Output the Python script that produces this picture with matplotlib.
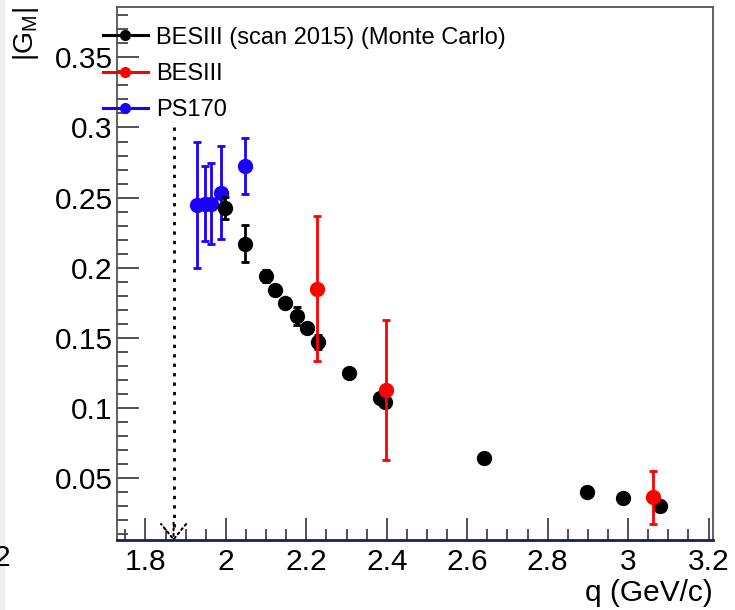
import matplotlib.pyplot as plt
from matplotlib.lines import Line2D
from matplotlib.patches import Rectangle
from matplotlib.ticker import MultipleLocator

# BESIII scan 2015 (Monte Carlo)
mc_q = [1.999, 2.047, 2.099, 2.122, 2.148, 2.176, 2.202, 2.230, 2.306, 2.383, 2.396, 2.643, 2.897, 2.987, 3.080]
mc_g = [0.2426, 0.2172, 0.1941, 0.1840, 0.1750, 0.1654, 0.1566, 0.1470, 0.1248, 0.1067, 0.1043, 0.0640, 0.0402, 0.0355, 0.0300]
mc_err = [0.008, 0.013, 0.004, 0.0, 0.0, 0.0065, 0.0, 0.005, 0.0, 0.0, 0.0, 0.0, 0.0, 0.0, 0.0]

# BESIII
bes_q = [2.227, 2.398, 3.063]
bes_g = [0.1851, 0.1126, 0.0362]
bes_err = [0.052, 0.050, 0.019]

# PS170
ps_q = [1.927, 1.948, 1.963, 1.988, 2.047]
ps_g = [0.2445, 0.2457, 0.2457, 0.2536, 0.2725]
ps_err = [0.045, 0.027, 0.029, 0.033, 0.020]

threshold_q = 1.87
threshold_top = 0.30

labels = ["BESIII (scan 2015) (Monte Carlo)", "BESIII", "PS170"]
colors = ["black", "#ff0000", "#1a00ff"]

plt.rcParams["font.family"] = ["Liberation Sans", "DejaVu Sans"]
plt.rcParams["mathtext.fontset"] = "custom"
plt.rcParams["mathtext.rm"] = "Liberation Sans"

fig = plt.figure(figsize=(7.35, 6.10), dpi=100)
ax = fig.add_axes([0.159, 0.1148, 0.811, 0.8738])

# light grey strip and clipped label at the very left edge of the original
fig.patches.append(Rectangle((0, 0), 0.006, 1, transform=fig.transFigure,
                             color="#eeeeee", zorder=0))
fig.text(-0.009, 0.085, "2", fontsize=21.5, ha="left", va="center")

style = dict(fmt="o", markersize=10, elinewidth=2, capsize=3, capthick=2)
ax.errorbar(mc_q, mc_g, yerr=mc_err, color=colors[0], zorder=3, **style)
ax.errorbar(bes_q, bes_g, yerr=bes_err, color=colors[1], zorder=4, **style)
ax.errorbar(ps_q, ps_g, yerr=ps_err, color=colors[2], zorder=2, **style)

# threshold marker
ax.plot([threshold_q, threshold_q], [threshold_top, 0.012], color="black",
        linestyle=(0, (1.2, 2.2)), linewidth=2)
ax.annotate("", xy=(threshold_q, 0.003), xytext=(threshold_q, 0.02),
            arrowprops=dict(arrowstyle="->, head_length=1.1, head_width=0.9",
                            linestyle=":", color="black", lw=1.5),
            annotation_clip=False)

ax.set_xlim(1.729, 3.211)
ax.set_ylim(0.0057, 0.386)

ax.xaxis.set_major_locator(MultipleLocator(0.2))
ax.xaxis.set_minor_locator(MultipleLocator(0.05))
ax.yaxis.set_major_locator(MultipleLocator(0.05))
ax.yaxis.set_minor_locator(MultipleLocator(0.01))
ax.xaxis.set_major_formatter(plt.FuncFormatter(lambda v, p: f"{v:g}"))
ax.yaxis.set_major_formatter(plt.FuncFormatter(lambda v, p: f"{v:g}"))

ax.tick_params(which="both", direction="in", top=False, right=False,
               labelsize=21.5, color="#444444")
ax.tick_params(which="major", length=16, width=1.3)
ax.tick_params(which="minor", length=8, width=1.3)
ax.tick_params(axis="x", pad=6)
ax.tick_params(axis="y", pad=3)

for side in ["top", "right", "left"]:
    ax.spines[side].set_color("#555555")
    ax.spines[side].set_linewidth(1.3)
ax.spines["bottom"].set_color("#1c1c5c")
ax.spines["bottom"].set_linewidth(2)

ax.set_xlabel("q (GeV/c)", fontsize=21.5, loc="right")
ax.xaxis.set_label_coords(1.0, -0.074)
ax.set_ylabel(r"|G$_{\mathrm{M}}$|", fontsize=20.5, loc="top")
ax.yaxis.set_label_coords(-0.128, 1.0)

handles = [Line2D([], [], color=c, marker="o", markersize=7, linewidth=2.2)
           for c in colors]
ax.legend(handles, labels, loc="upper left", bbox_to_anchor=(-0.0235, 0.963),
          frameon=False, fontsize=17, handlelength=1.9, handletextpad=0.35,
          labelspacing=0.6, borderpad=0, borderaxespad=0)

fig.savefig("out.png", dpi=100)
